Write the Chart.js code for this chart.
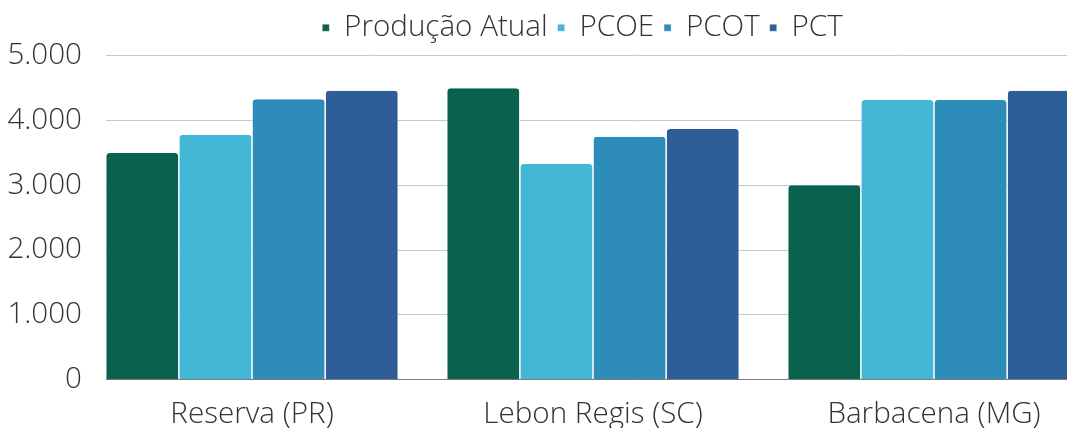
<!DOCTYPE html>
<html>
<head>
<meta charset="utf-8">
<script src="https://cdn.jsdelivr.net/npm/chart.js@4/dist/chart.umd.min.js"></script>
<style>
  html, body { margin: 0; padding: 0; background: #ffffff; overflow: hidden; }
  canvas { display: block; }
</style>
</head>
<body>
<canvas id="chart" width="1165" height="445"></canvas>
<script>
// Produção por localidade, em quatro cenários
const categories = ['Reserva (PR)', 'Lebon Regis (SC)', 'Barbacena (MG)'];
const seriesNames = ['Produção Atual', 'PCOE', 'PCOT', 'PCT'];
const producaoAtual = [3500, 4500, 3000];
const pcoe = [3780, 3330, 4320];
const pcot = [4330, 3750, 4320];
const pct = [4460, 3870, 4460];
const yTicks = [0, 1000, 2000, 3000, 4000, 5000];

const seriesValues = [producaoAtual, pcoe, pcot, pct];
const seriesColors = ['#0A614D', '#42B7D6', '#2D8CBA', '#2E5E98'];

const FONT = { family: '"Open Sans", "Noto Sans", sans-serif', size: 29.6, weight: 300 };
const TEXT = '#333333';

function fmtThousands(v) {
  return String(v).replace(/\B(?=(\d{3})+(?!\d))/g, '.');
}

const datasets = seriesNames.map((name, s) => ({
  label: name,
  data: seriesValues[s].map((v, i) => ({ x: i, y: v })),
  backgroundColor: seriesColors[s],
  borderColor: 'rgba(255,255,255,0.85)',
  borderWidth: { left: 0.75, right: 0.75, top: 0, bottom: 0 },
  borderSkipped: 'bottom',
  borderRadius: { topLeft: 4, topRight: 4, bottomLeft: 0, bottomRight: 0 },
  categoryPercentage: 0.858,
  barPercentage: 1
}));

new Chart(document.getElementById('chart'), {
  type: 'bar',
  data: { datasets },
  options: {
    responsive: false,
    devicePixelRatio: 1,
    animation: false,
    layout: { padding: { top: 3, left: 0, right: 0, bottom: 0 } },
    plugins: {
      tooltip: { enabled: false },
      legend: {
        position: 'top',
        align: 'center',
        labels: {
          font: FONT,
          color: TEXT,
          boxWidth: 7,
          boxHeight: 7,
          padding: 10
        }
      }
    },
    scales: {
      x: {
        type: 'linear',
        bounds: 'data',
        offset: false,
        min: -0.4282,
        max: 2.6774,
        afterBuildTicks: (s) => { s.ticks = categories.map((_, i) => ({ value: i })); },
        grid: { display: false, drawTicks: false },
        border: { display: false },
        ticks: {
          autoSkip: false,
          maxRotation: 0,
          padding: 17,
          font: FONT,
          color: TEXT,
          callback: (v) => categories[v] ?? ''
        },
        afterFit: (s) => { s.height = 65.5; }
      },
      // empty band between the legend and the plot
      xTop: {
        type: 'linear',
        position: 'top',
        grid: { display: false, drawTicks: false },
        border: { display: false },
        ticks: { display: false },
        afterFit: (s) => { s.height = 3.3; }
      },
      y: {
        min: yTicks[0],
        max: yTicks[yTicks.length - 1],
        afterBuildTicks: (s) => { s.ticks = yTicks.map(v => ({ value: v })); },
        grid: {
          drawTicks: false,
          color: (c) => (c.tick && c.tick.value === 0) ? '#7a7a7a' : '#c8c8c8',
          lineWidth: 1
        },
        border: { display: false },
        ticks: {
          padding: 24,
          font: FONT,
          color: TEXT,
          callback: (v) => fmtThousands(v)
        },
        afterFit: (s) => { s.width = 106; }
      }
    }
  }
});
</script>
</body>
</html>
